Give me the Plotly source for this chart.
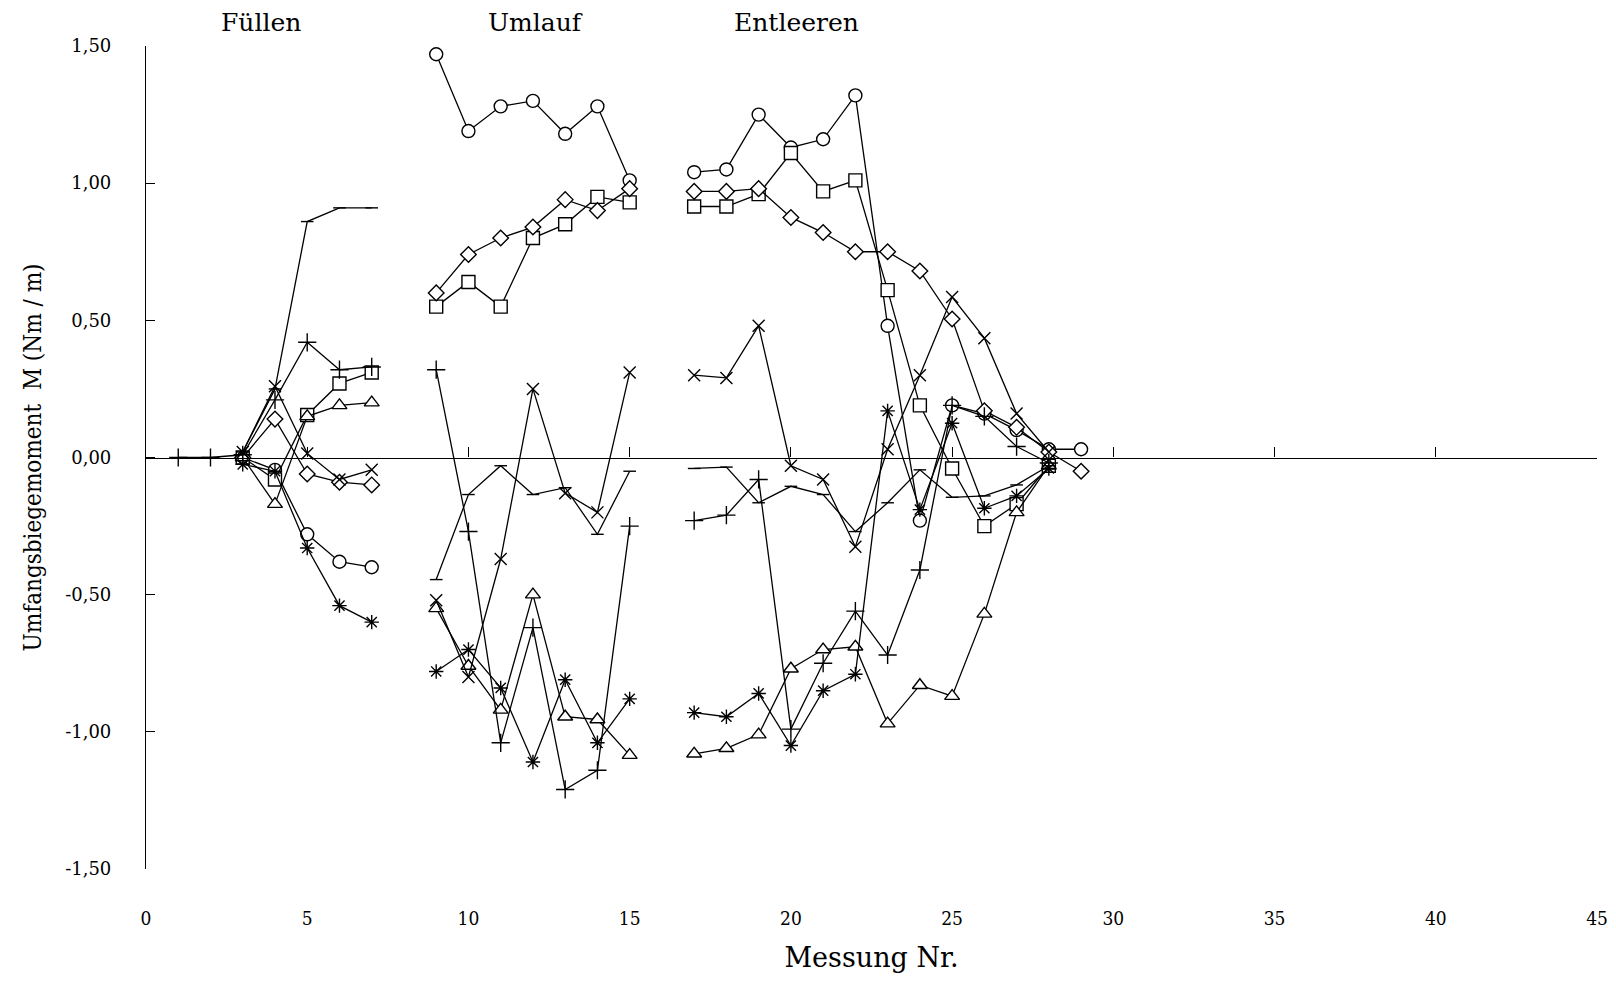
import plotly.graph_objects as go

# Messung Nr. (None = break between phases)
messung = [1, 2, 3, 4, 5, 6, 7, 8, 9, 10, 11, 12, 13, 14, 15, 16,
           17, 18, 19, 20, 21, 22, 23, 24, 25, 26, 27, 28, 29]

# Series values (Nm/m); None where no value / phase gap
kreis = [None, None, 0.00, -0.045, -0.28, -0.38, -0.40, None,
         1.47, 1.19, 1.28, 1.30, 1.18, 1.28, 1.01, None,
         1.04, 1.05, 1.25, 1.13, 1.16, 1.32, 0.48, -0.23, 0.19, 0.16, 0.10, 0.03, 0.03]
quadrat = [None, None, 0.00, -0.08, 0.155, 0.27, 0.31, None,
           0.55, 0.64, 0.55, 0.80, 0.85, 0.95, 0.93, None,
           0.915, 0.915, 0.96, 1.11, 0.97, 1.01, 0.61, 0.19, -0.04, -0.25, -0.17, -0.03, None]
raute = [None, None, 0.00, 0.14, -0.06, -0.09, -0.10, None,
         0.60, 0.74, 0.80, 0.84, 0.94, 0.90, 0.98, None,
         0.97, 0.97, 0.98, 0.875, 0.82, 0.75, 0.75, 0.68, 0.505, 0.17, 0.11, 0.02, -0.05]
dreieck = [None, None, 0.00, -0.17, 0.15, 0.19, 0.20, None,
           -0.55, -0.76, -0.92, -0.50, -0.945, -0.955, -1.085, None,
           -1.08, -1.06, -1.01, -0.77, -0.70, -0.69, -0.97, -0.83, -0.87, -0.57, -0.20, -0.03, None]
plus = [0.00, 0.00, 0.01, 0.21, 0.42, 0.32, 0.33, None,
        0.32, -0.27, -1.04, -0.62, -1.21, -1.14, -0.25, None,
        -0.23, -0.21, -0.08, -0.99, -0.75, -0.56, -0.72, -0.41, 0.19, 0.15, 0.04, -0.02, None]
kreuz = [None, None, 0.02, 0.26, 0.015, -0.08, -0.045, None,
         -0.52, -0.80, -0.37, 0.25, -0.13, -0.20, 0.31, None,
         0.30, 0.29, 0.48, -0.03, -0.08, -0.325, 0.03, 0.30, 0.585, 0.435, 0.16, 0.02, None]
stern = [None, None, -0.025, -0.05, -0.33, -0.54, -0.60, None,
         -0.78, -0.70, -0.84, -1.11, -0.81, -1.04, -0.88, None,
         -0.93, -0.945, -0.86, -1.05, -0.85, -0.79, 0.17, -0.19, 0.125, -0.185, -0.14, -0.04, None]
strich = [None, None, 0.02, 0.25, 0.86, 0.91, 0.91, None,
          -0.445, -0.135, -0.03, -0.135, -0.11, -0.28, -0.05, None,
          -0.04, -0.035, -0.165, -0.105, -0.135, -0.27, -0.165, -0.045, -0.145, -0.14, -0.10, -0.03, None]

y_ticks = [-1.5, -1.0, -0.5, 0.0, 0.5, 1.0, 1.5]
y_tick_text = ["-1,50", "-1,00", "-0,50", "0,00", "0,50", "1,00", "1,50"]
x_ticks = [0, 5, 10, 15, 20, 25, 30, 35, 40, 45]
phasen = ["Füllen", "Umlauf", "Entleeren"]
phasen_x = [3.57, 12.08, 20.16]

series = [
    (kreis, "circle", 13),
    (quadrat, "square", 13),
    (raute, "diamond", 12),
    (dreieck, "triangle-up", 13),
    (plus, "cross-thin", 13),
    (kreuz, "x-thin", 12),
    (stern, "asterisk", 12),
    (strich, "line-ew", 9),
]

fig = go.Figure()
for vals, sym, size in series:
    fig.add_trace(go.Scatter(
        x=messung, y=vals, mode="lines+markers", connectgaps=False,
        line=dict(color="black", width=1.3),
        marker=dict(symbol=sym, size=size, color="white",
                    line=dict(color="black", width=1.4)),
        showlegend=False, hoverinfo="x+y",
    ))

# helper trace for the zero-line axis
fig.add_trace(go.Scatter(x=[0, 45], y=[0, 0], xaxis="x2", mode="lines",
                         line=dict(width=0), showlegend=False, hoverinfo="skip"))

serif = "DejaVu Serif"
cond = "DejaVu Serif Condensed, DejaVu Serif"

for name, px in zip(phasen, phasen_x):
    fig.add_annotation(x=px, y=1.028, xref="x", yref="paper", text=name,
                       showarrow=False, font=dict(family=serif, size=25, color="black"),
                       xanchor="center", yanchor="middle")

# page body has an 8px margin, so the figure is sized to fit inside the window
fig.update_layout(
    width=1600, height=969,
    margin=dict(l=138, r=11, t=38, b=108),
    paper_bgcolor="white", plot_bgcolor="white",
    xaxis=dict(range=[0, 45], tickvals=x_ticks, showline=False, ticks="",
               showgrid=False, zeroline=False, automargin=False,
               tickfont=dict(family=cond, size=19, color="black"),
               ticklabelstandoff=36,
               title=dict(text="Messung Nr.", standoff=20,
                          font=dict(family=serif, size=27, color="black"))),
    xaxis2=dict(range=[0, 45], overlaying="x", matches="x", anchor="free", position=0.5,
                side="bottom", showline=True, linecolor="black", linewidth=1.2,
                ticks="inside", ticklen=10, tickwidth=1, tickcolor="black",
                tickvals=x_ticks, showticklabels=False, showgrid=False, zeroline=False,
                automargin=False),
    yaxis=dict(range=[-1.5, 1.5], tickvals=y_ticks, ticktext=y_tick_text,
               showline=True, linecolor="black", linewidth=1.2,
               ticks="inside", ticklen=9, tickcolor="black",
               showgrid=False, zeroline=False, automargin=False,
               tickfont=dict(family=serif, size=18, color="black"),
               ticklabelstandoff=30,
               title=dict(text="Umfangsbiegemoment  M (Nm / m)", standoff=16,
                          font=dict(family=cond, size=24, color="black"))),
    font=dict(family=serif, color="black"),
)

fig.write_html("out.html")
